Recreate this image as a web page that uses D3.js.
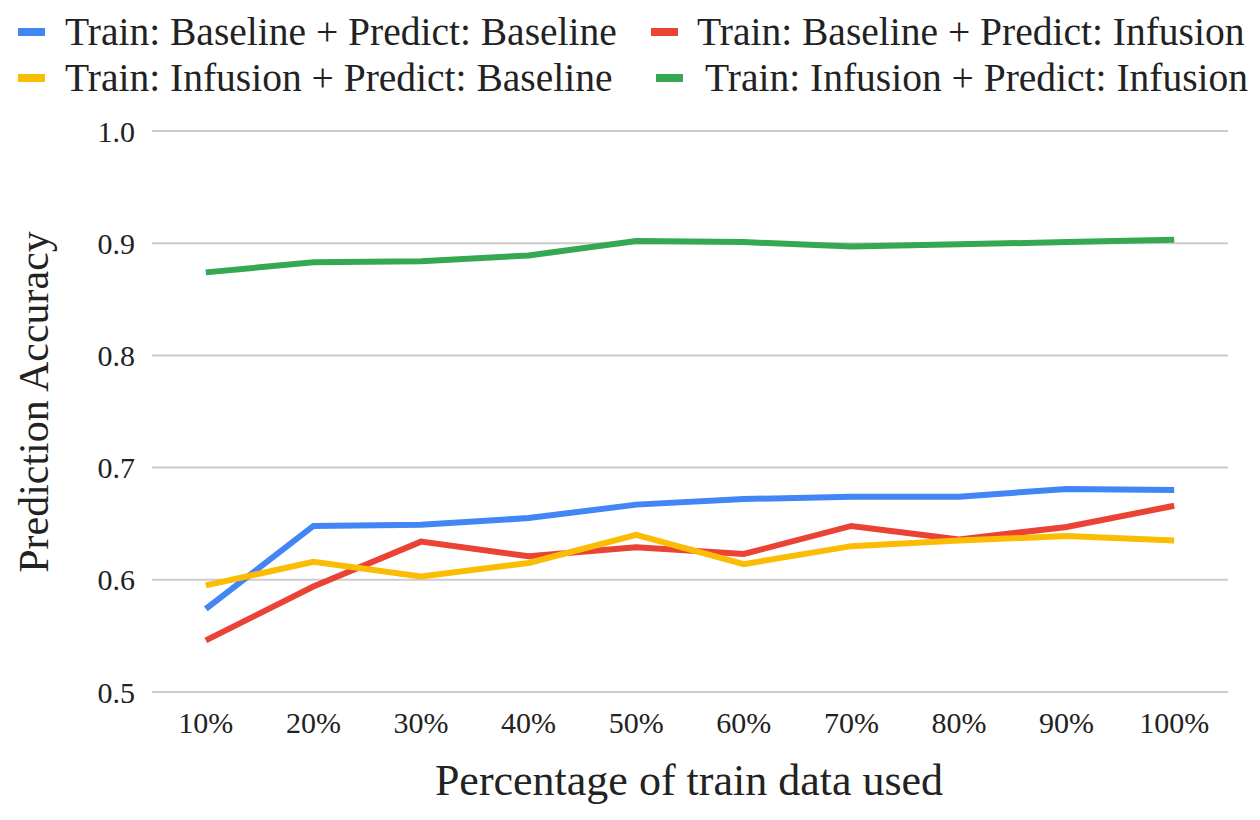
<!DOCTYPE html>
<html>
<head>
<meta charset="utf-8">
<script src="https://cdn.jsdelivr.net/npm/d3@7"></script>
<style>
  body { margin: 0; background: #fff; }
  svg text { font-family: "Liberation Serif", "DejaVu Serif", serif; fill: #222; }
</style>
</head>
<body>
<svg id="chart" width="1260" height="820"></svg>
<script>
const categories = ["10%", "20%", "30%", "40%", "50%", "60%", "70%", "80%", "90%", "100%"];
const yTicks = [0.5, 0.6, 0.7, 0.8, 0.9, 1.0];

const seriesNames = [
    "Train: Baseline + Predict: Baseline",
    "Train: Baseline + Predict: Infusion",
    "Train: Infusion + Predict: Baseline",
    "Train: Infusion + Predict: Infusion"
];
const baseBase = [0.574, 0.648, 0.649, 0.655, 0.667, 0.672, 0.674, 0.674, 0.681, 0.680];
const baseInf = [0.546, 0.594, 0.634, 0.621, 0.629, 0.623, 0.648, 0.636, 0.647, 0.666];
const infBase = [0.595, 0.616, 0.603, 0.615, 0.640, 0.614, 0.630, 0.635, 0.639, 0.635];
const infInf = [0.874, 0.883, 0.884, 0.889, 0.902, 0.901, 0.897, 0.899, 0.901, 0.903];

const colors = ["#4285f4", "#ea4335", "#fbbc04", "#34a853"];
const series = [baseBase, baseInf, infBase, infInf];

const svg = d3.select("#chart");
const plotLeft = 152, plotRight = 1228, plotTop = 131, plotBottom = 692;

const x = d3.scalePoint().domain(categories).range([plotLeft, plotRight]).padding(0.5);
const y = d3.scaleLinear().domain([0.5, 1.0]).range([plotBottom, plotTop]);

// gridlines
svg.append("g")
    .selectAll("line")
    .data(yTicks)
    .enter()
    .append("line")
    .attr("x1", plotLeft)
    .attr("x2", plotRight)
    .attr("y1", d => y(d))
    .attr("y2", d => y(d))
    .attr("stroke", "#cccccc")
    .attr("stroke-width", 2);

// y tick labels
svg.append("g")
    .selectAll("text")
    .data(yTicks)
    .enter()
    .append("text")
    .attr("x", 135)
    .attr("y", d => y(d))
    .attr("dy", "0.35em")
    .attr("text-anchor", "end")
    .style("font-size", "30px")
    .text(d => d.toFixed(1));

// x tick labels
svg.append("g")
    .selectAll("text")
    .data(categories)
    .enter()
    .append("text")
    .attr("x", d => x(d))
    .attr("y", 733)
    .attr("text-anchor", "middle")
    .style("font-size", "30px")
    .text(d => d);

// lines
const line = d3.line()
    .x((d, i) => x(categories[i]))
    .y(d => y(d));

svg.append("g")
    .selectAll("path")
    .data(series)
    .enter()
    .append("path")
    .attr("d", line)
    .attr("fill", "none")
    .attr("stroke", (d, i) => colors[i])
    .attr("stroke-width", 6);

// axis titles
svg.append("text")
    .attr("x", 689)
    .attr("y", 795)
    .attr("text-anchor", "middle")
    .style("font-size", "44px")
    .text("Percentage of train data used");

svg.append("text")
    .attr("transform", "translate(48, 402) rotate(-90)")
    .attr("text-anchor", "middle")
    .style("font-size", "42px")
    .text("Prediction Accuracy");

// legend, row by row
const legendPos = [
    { sx: 18, tx: 65, cy: 32 },
    { sx: 651, tx: 697, cy: 32 },
    { sx: 18, tx: 65, cy: 78 },
    { sx: 656, tx: 705, cy: 78 }
];

const legend = svg.append("g")
    .selectAll("g")
    .data(seriesNames)
    .enter()
    .append("g");

legend.append("rect")
    .attr("x", (d, i) => legendPos[i].sx)
    .attr("y", (d, i) => legendPos[i].cy - 4)
    .attr("width", 27)
    .attr("height", 8)
    .attr("fill", (d, i) => colors[i]);

legend.append("text")
    .attr("x", (d, i) => legendPos[i].tx)
    .attr("y", (d, i) => legendPos[i].cy)
    .attr("dy", "0.33em")
    .style("font-size", "39.5px")
    .text(d => d);
</script>
</body>
</html>
